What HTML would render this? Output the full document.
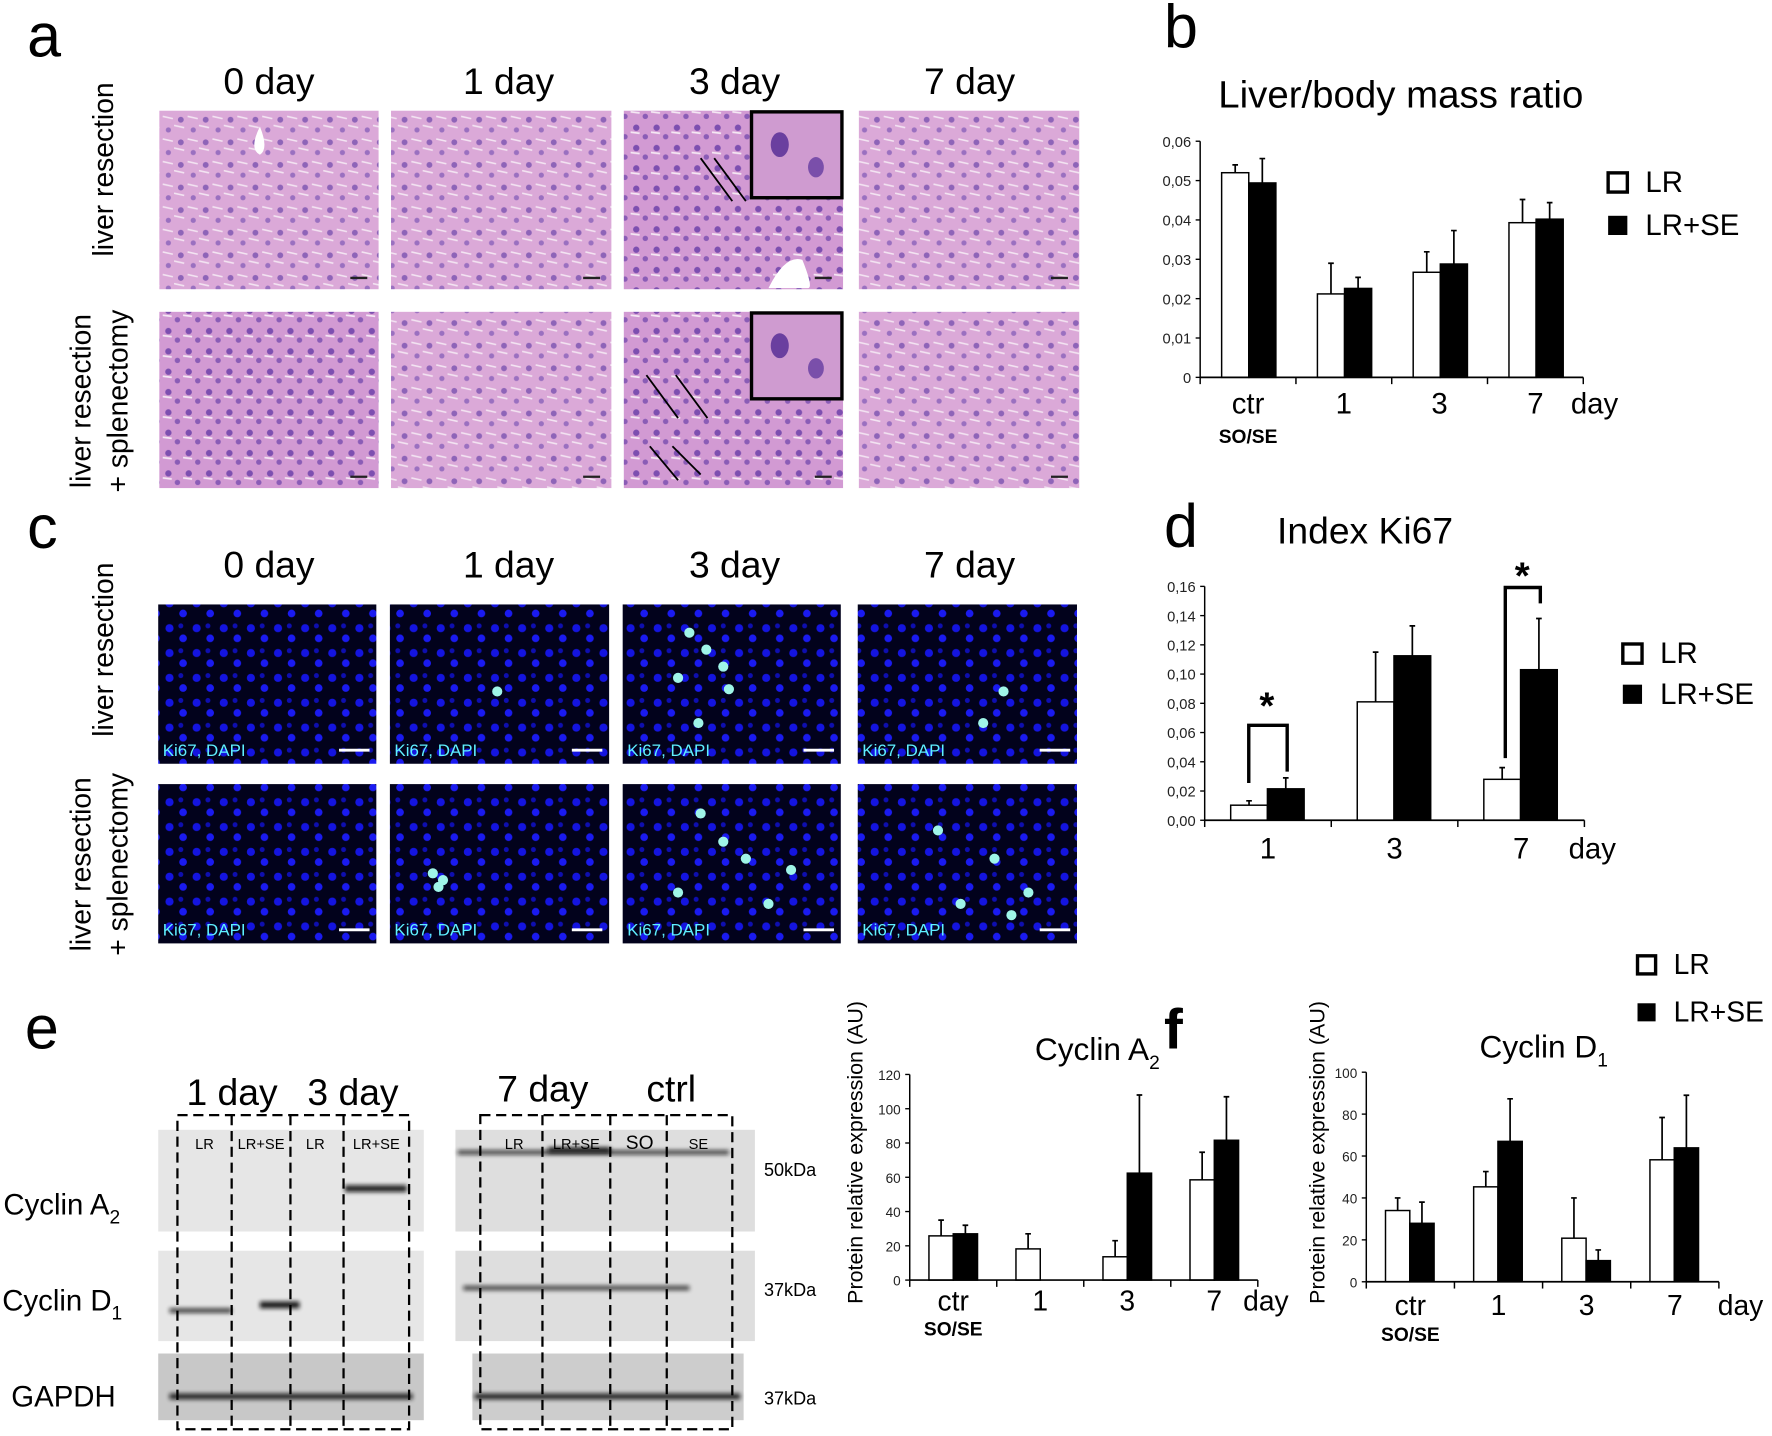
<!DOCTYPE html>
<html><head><meta charset="utf-8">
<style>
html,body{margin:0;padding:0;background:#fff;}
svg{display:block;font-family:"Liberation Sans",sans-serif;}
</style></head>
<body>
<svg id="fig" xmlns="http://www.w3.org/2000/svg" width="1772" height="1436" viewBox="0 0 1568 1271" preserveAspectRatio="none">
<defs>
  <pattern id="histo" width="22" height="20" patternUnits="userSpaceOnUse">
    <rect width="22" height="20" fill="#dba9d8"/>
    <circle cx="6" cy="6" r="2.6" fill="#8e64b8"/>
    <circle cx="17" cy="15" r="2.3" fill="#9a70c0"/>
    <path d="M0 11 L9 13 M12 3 L21 5" stroke="#f3e4f2" stroke-width="1.4"/>
  </pattern>
  <pattern id="histo2" width="18" height="18" patternUnits="userSpaceOnUse">
    <rect width="18" height="18" fill="#d29ad3"/>
    <circle cx="5" cy="5" r="2.8" fill="#7d4fb0"/>
    <circle cx="13" cy="13" r="2.4" fill="#8a5cb6"/>
    <path d="M0 9 L8 10" stroke="#f5e8f4" stroke-width="1.6"/>
  </pattern>
  <pattern id="fluo" width="24" height="22" patternUnits="userSpaceOnUse">
    <rect width="24" height="22" fill="#02021c"/>
    <circle cx="6" cy="6" r="3.6" fill="#1414e0"/>
    <circle cx="18" cy="15" r="3.4" fill="#1a1af0"/>
    <circle cx="16" cy="4" r="2.2" fill="#0e0eb0"/>
  </pattern>
  <filter id="blur" x="-20%" y="-100%" width="140%" height="300%"><feGaussianBlur stdDeviation="2"/></filter>
</defs>

<!-- panel a -->
<text x="24" y="50" font-size="54">a</text>
<g font-size="33" text-anchor="middle">
  <text x="238" y="83">0 day</text><text x="450" y="83">1 day</text><text x="650" y="83">3 day</text><text x="858" y="83">7 day</text>
</g>
<g font-size="25" text-anchor="middle">
  <text transform="translate(100,150) rotate(-90)">liver resection</text>
  <text transform="translate(80,355) rotate(-90)">liver resection</text>
  <text transform="translate(113,355) rotate(-90)">+ splenectomy</text>
</g>
<g id="histoImgs"></g>

<!-- panel c -->
<text x="24" y="485" font-size="54">c</text>
<g font-size="33" text-anchor="middle">
  <text x="238" y="511">0 day</text><text x="450" y="511">1 day</text><text x="650" y="511">3 day</text><text x="858" y="511">7 day</text>
</g>
<g font-size="25" text-anchor="middle">
  <text transform="translate(100,575) rotate(-90)">liver resection</text>
  <text transform="translate(80,765) rotate(-90)">liver resection</text>
  <text transform="translate(113,765) rotate(-90)">+ splenectomy</text>
</g>
<g id="fluoImgs"></g>

<!-- panel e -->
<text x="22" y="928" font-size="54">e</text>
<g font-size="33">
  <text x="165" y="978">1 day</text><text x="272" y="978">3 day</text>
  <text x="440" y="975">7 day</text><text x="572" y="975">ctrl</text>
</g>
<g font-size="26">
  <text x="3" y="1075">Cyclin A<tspan font-size="17" dy="8">2</tspan></text>
  <text x="2" y="1160">Cyclin D<tspan font-size="17" dy="8">1</tspan></text>
  <text x="10" y="1245">GAPDH</text>
</g>
<g font-size="16">
  <text x="676" y="1041">50kDa</text><text x="676" y="1147">37kDa</text><text x="676" y="1243">37kDa</text>
</g>
<g id="blots"></g>

<!-- panel b,d,f charts -->
<text x="1030" y="42" font-size="54">b</text>
<text x="1078" y="95" font-size="34">Liver/body mass ratio</text>
<text x="1030" y="484" font-size="54">d</text>
<text x="1130" y="481" font-size="33">Index Ki67</text>
<text x="1030" y="928" font-size="50" font-weight="bold">f</text>
<text x="971" y="938" font-size="28" text-anchor="middle">Cyclin A<tspan font-size="17" dy="8">2</tspan></text>
<text x="1366" y="936" font-size="28" text-anchor="middle">Cyclin D<tspan font-size="17" dy="8">1</tspan></text>
<text transform="translate(763,1020) rotate(-90)" font-size="19" text-anchor="middle">Protein relative expression (AU)</text>
<text transform="translate(1172,1020) rotate(-90)" font-size="19" text-anchor="middle">Protein relative expression (AU)</text>
<g id="charts"></g>
</svg>

<script>
// ---- chart data ----
const bCategories = ['ctr', '1', '3', '7'];
const bTickValues = [0, 0.01, 0.02, 0.03, 0.04, 0.05, 0.06];
const bTickLabels = ['0', '0,01', '0,02', '0,03', '0,04', '0,05', '0,06'];
const bLR = [0.052, 0.0212, 0.0267, 0.0393];
const bLRerr = [0.0020, 0.0078, 0.0052, 0.0059];
const bSE = [0.0494, 0.0226, 0.0288, 0.0402];
const bSEerr = [0.0062, 0.0028, 0.0085, 0.0042];

const dCategories = ['1', '3', '7'];
const dTickValues = [0, 0.02, 0.04, 0.06, 0.08, 0.10, 0.12, 0.14, 0.16];
const dTickLabels = ['0,00', '0,02', '0,04', '0,06', '0,08', '0,10', '0,12', '0,14', '0,16'];
const dLR = [0.0103, 0.081, 0.028];
const dLRerr = [0.003, 0.034, 0.008];
const dSE = [0.0215, 0.1125, 0.103];
const dSEerr = [0.0075, 0.0205, 0.035];

const a2Categories = ['ctr', '1', '3', '7'];
const a2TickValues = [0, 20, 40, 60, 80, 100, 120];
const a2TickLabels = ['0', '20', '40', '60', '80', '100', '120'];
const a2LR = [25.8, 18.2, 13.6, 58.5];
const a2LRerr = [9.2, 8.8, 9.4, 16.1];
const a2SE = [27, 0, 62.4, 81.6];
const a2SEerr = [5, 0, 45.6, 25.4];

const d1Categories = ['ctr', '1', '3', '7'];
const d1TickValues = [0, 20, 40, 60, 80, 100];
const d1TickLabels = ['0', '20', '40', '60', '80', '100'];
const d1LR = [34, 45.3, 20.8, 58.2];
const d1LRerr = [6, 7.3, 19.2, 20.2];
const d1SE = [27.9, 67, 10.1, 63.9];
const d1SEerr = [10.1, 20.3, 5.1, 25.1];

const NS = 'http://www.w3.org/2000/svg';
function mk(tag, attrs, parent) {
  const e = document.createElementNS(NS, tag);
  for (const k in attrs) e.setAttribute(k, attrs[k]);
  parent.appendChild(e);
  return e;
}

function drawChart(id, c, cats, tv, tl, lr, lrE, se, seE) {
  const root = document.getElementById('charts');
  const g = mk('g', {}, root);
  
  
  const y = v => c.y0 - v / c.max * (c.y0 - c.yTop);
  const gw = (c.xEnd - c.x0) / cats.length;
  const gx = i => c.x0 + i * gw;
  const ya = mk('line', {x1: c.x0, y1: c.yTop, x2: c.x0, y2: c.y0, stroke: '#000', 'stroke-width': 1.3}, g);
  
  
  tv.forEach((v, i) => {
    const t = mk('line', {x1: c.x0 - 4, y1: y(v), x2: c.x0, y2: y(v), stroke: '#000', 'stroke-width': 1.2}, g);
    
    
    const tx = mk('text', {x: c.x0 - 8, y: y(v) + 5, 'font-size': c.tickFont, 'text-anchor': 'end', fill: '#222'}, g);
    tx.textContent = tl[i];
    
    
  });
  cats.forEach((cat, i) => {
    const x = gx(i) + c.off;
    [[lr, lrE, '#fff', 0], [se, seE, '#000', 1]].forEach(([vals, errs, fill, k]) => {
      const v = vals[i];
      if (v <= 0) return;
      const bx = x + k * c.bw;
      const r = mk('rect', {x: bx, y: y(v), width: c.bw, height: c.y0 - y(v), fill: fill, stroke: '#000', 'stroke-width': 1.3}, g);
      
      
      const cx = bx + c.bw / 2;
      const ey = y(v + errs[i]);
      const e = mk('path', {d: `M${cx} ${y(v)} V${ey} M${cx - 2.5} ${ey} H${cx + 2.5}`, stroke: '#000', 'stroke-width': 1.5, fill: 'none'}, g);
      
      
    });
    const lb = mk('text', {x: gx(i) + gw / 2 + (c.labDx || 0), y: c.labY, 'font-size': c.labFont, 'text-anchor': 'middle'}, g);
    lb.textContent = cat;
    
    
  });
  const xa = mk('line', {x1: c.x0, y1: c.y0, x2: c.xEnd, y2: c.y0, stroke: '#000', 'stroke-width': 1.5}, g);
  
  
  for (let i = 0; i <= cats.length; i++) {
    const t = mk('line', {x1: gx(i), y1: c.y0, x2: gx(i), y2: c.y0 + 6, stroke: '#000', 'stroke-width': 1.3}, g);
    
    
  }
  const day = mk('text', {x: c.dayX, y: c.labY, 'font-size': c.labFont}, g);
  day.textContent = 'day';
  
  
  if (c.soY) {
    const so = mk('text', {x: gx(0) + gw / 2 + (c.labDx || 0), y: c.soY, 'font-size': c.soFont, 'font-weight': 'bold', 'text-anchor': 'middle'}, g);
    so.textContent = 'SO/SE';
    
    
  }
  if (c.legX) {
    const lg = mk('g', {}, g);
    
    
    const s = c.legS;
    mk('rect', {x: c.legX, y: c.legY, width: s, height: s, fill: '#fff', stroke: '#000', 'stroke-width': 3}, lg);
    mk('rect', {x: c.legX, y: c.legY + c.legGap, width: s, height: s, fill: '#000'}, lg);
    const t1 = mk('text', {x: c.legX + s + 16, y: c.legY + s, 'font-size': c.legFont}, lg);
    t1.textContent = 'LR';
    
    
    const t2 = mk('text', {x: c.legX + s + 16, y: c.legY + c.legGap + s, 'font-size': c.legFont}, lg);
    t2.textContent = 'LR+SE';
    
    
  }
  return {g, y, gx, gw};
}

drawChart('liver-mass', {x0: 1062, y0: 334, yTop: 125, xEnd: 1401, max: 0.06, off: 19, bw: 24, tickFont: 13, labFont: 26, labY: 366, dayX: 1390, soY: 392, soFont: 17,
  legX: 1423, legY: 153, legS: 17, legGap: 38, legFont: 26}, bCategories, bTickValues, bTickLabels, bLR, bLRerr, bSE, bSEerr);

const dch = drawChart('ki67', {x0: 1066, y0: 726, yTop: 519, xEnd: 1402, max: 0.16, off: 23, bw: 32.5, tickFont: 13, labFont: 26, labY: 760, dayX: 1388,
  legX: 1436, legY: 570, legS: 17, legGap: 36, legFont: 26}, dCategories, dTickValues, dTickLabels, dLR, dLRerr, dSE, dSEerr);
(function () {
  const g = dch.g;
  const b1 = mk('path', {d: 'M1105 693 V642 H1139 V683', stroke: '#000', 'stroke-width': 3, fill: 'none'}, g);
  
  
  const b7 = mk('path', {d: 'M1332 671 V520 H1363 V534', stroke: '#000', 'stroke-width': 3, fill: 'none'}, g);
  
  
  const s1 = mk('text', {x: 1121, y: 636, 'font-size': 34, 'font-weight': 'bold', 'text-anchor': 'middle'}, g);
  s1.textContent = '*';
  
  
  const s7 = mk('text', {x: 1347, y: 521, 'font-size': 34, 'font-weight': 'bold', 'text-anchor': 'middle'}, g);
  s7.textContent = '*';
  
  
})();

drawChart('cyclin-a2', {x0: 805, y0: 1133, yTop: 951, xEnd: 1113, max: 120, off: 17, bw: 21.5, tickFont: 12, labFont: 25, labY: 1160, dayX: 1100, soY: 1182, soFont: 17}, a2Categories, a2TickValues, a2TickLabels, a2LR, a2LRerr, a2SE, a2SEerr);

drawChart('cyclin-d1', {x0: 1209, y0: 1134.5, yTop: 949, xEnd: 1521, max: 100, off: 17, bw: 21.5, tickFont: 12, labFont: 25, labY: 1164, dayX: 1520, soY: 1187, soFont: 17,
  legX: 1449, legY: 846, legS: 16, legGap: 42, legFont: 25}, d1Categories, d1TickValues, d1TickLabels, d1LR, d1LRerr, d1SE, d1SEerr);

// ---- images (decorative) ----
const colsX = [[141, 335], [346, 541], [552, 746], [760, 955]];
const hImg = document.getElementById('histoImgs');
[[98, 256], [276, 432]].forEach((row, r) => {
  colsX.forEach((cx, c) => {
    const im = mk('rect', {x: cx[0], y: row[0], width: cx[1] - cx[0], height: row[1] - row[0], fill: (c === 2 || (r === 1 && c === 0)) ? 'url(#histo2)' : 'url(#histo)'}, hImg);
    
    
    mk('line', {x1: cx[1] - 25, y1: row[1] - 10, x2: cx[1] - 10, y2: row[1] - 10, stroke: '#222', 'stroke-width': 2}, hImg);
  });
  const ins = mk('rect', {x: 665, y: row[0] + 1, width: 80, height: 76, fill: '#cf9bd0', stroke: '#000', 'stroke-width': 3}, hImg);
  
  
  mk('ellipse', {cx: 690, cy: row[0] + 30, rx: 8, ry: 11, fill: '#6a3f9f'}, hImg);
  mk('ellipse', {cx: 722, cy: row[0] + 50, rx: 7, ry: 9, fill: '#7a4faa'}, hImg);
});
mk('path', {d: 'M620 140 L648 178 M632 140 L660 178 M572 332 L600 370 M598 332 L626 370 M595 395 L620 420 M575 395 L600 425', stroke: '#000', 'stroke-width': 1.6}, hImg);
mk('path', {d: 'M230 112 q8 20 0 25 q-10 -5 0 -25z', fill: '#fff'}, hImg);
mk('path', {d: 'M680 255 q15 -30 30 -25 q10 25 5 25z', fill: '#fff'}, hImg);

const fImg = document.getElementById('fluoImgs');
const cyan = [[[], []], [[[440, 612]], [[383, 773], [392, 779], [388, 785]]], [[[610, 560], [625, 575], [640, 590], [600, 600], [618, 640], [645, 610]], [[620, 720], [640, 745], [660, 760], [600, 790], [680, 800], [700, 770]]], [[[888, 612], [870, 640]], [[830, 735], [880, 760], [910, 790], [850, 800], [895, 810]]]];
[[535, 676], [694, 835]].forEach((row, r) => {
  colsX.forEach((cx, c) => {
    const im = mk('rect', {x: cx[0] - 1, y: row[0], width: cx[1] - cx[0] - 1, height: row[1] - row[0], fill: 'url(#fluo)'}, fImg);
    
    
    (cyan[c][r] || []).forEach(p => mk('circle', {cx: p[0], cy: p[1], r: 4.5, fill: '#9ff5e8'}, fImg));
    const t = mk('text', {x: cx[0] + 3, y: row[1] - 7, 'font-size': 15, fill: '#5ff0ff'}, fImg);
    t.textContent = 'Ki67, DAPI';
    
    
    mk('line', {x1: cx[1] - 35, y1: row[1] - 12, x2: cx[1] - 8, y2: row[1] - 12, stroke: '#fff', 'stroke-width': 2.5}, fImg);
  });
});

// blots
const bl = document.getElementById('blots');
const blotRows = [[1000, 1090], [1107, 1187], [1198, 1257]];
blotRows.forEach((r, i) => {
  const a = mk('rect', {x: 140, y: r[0], width: 235, height: r[1] - r[0], fill: i === 2 ? '#c8c8c8' : '#e6e6e6'}, bl);
  
  
  const b = mk('rect', {x: i === 2 ? 418 : 403, y: r[0], width: i === 2 ? 240 : 265, height: r[1] - r[0], fill: i === 2 ? '#cdcdcd' : '#dedede'}, bl);
  
  
});
const bands = [[305, 1052, 55, 6, 0.9], [150, 1160, 55, 4, 0.8], [230, 1155, 35, 6, 0.95], [405, 1020, 240, 4, 0.75], [485, 1018, 55, 5, 0.9], [410, 1140, 200, 4, 0.75], [150, 1236, 215, 5, 0.9], [420, 1236, 235, 5, 0.9]];
bands.forEach(bd => {
  const r = mk('rect', {x: bd[0], y: bd[1] - bd[3] / 2, width: bd[2], height: bd[3], fill: '#111', opacity: bd[4], filter: 'url(#blur)'}, bl);
  
  
});
const dash = {stroke: '#000', 'stroke-width': 2, 'stroke-dasharray': '9 5', fill: 'none'};
const box1 = mk('rect', Object.assign({x: 157, y: 987, width: 205, height: 278}, dash), bl);


const box2 = mk('rect', Object.assign({x: 425, y: 987, width: 223, height: 278}, dash), bl);


[205, 257, 304, 480, 540, 590].forEach(x => mk('line', Object.assign({x1: x, y1: 987, x2: x, y2: 1265}, dash), bl));
[[181, 'LR'], [231, 'LR+SE'], [279, 'LR'], [333, 'LR+SE'], [455, 'LR'], [510, 'LR+SE'], [566, 'SO'], [618, 'SE']].forEach(l => {
  const t = mk('text', {x: l[0], y: 1017, 'font-size': l[1] === 'SO' ? 17 : 13, 'text-anchor': 'middle'}, bl);
  t.textContent = l[1];
  
  
});
</script>
</body></html>
